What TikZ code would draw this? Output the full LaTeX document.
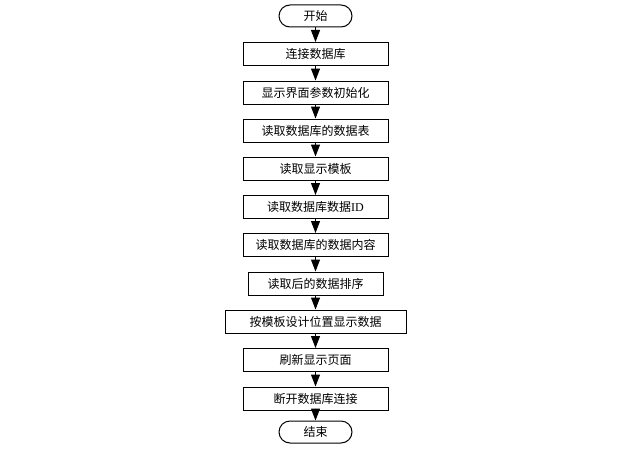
\documentclass[tikz,border=0pt]{standalone}
\usepackage{fontspec}
\setmainfont{Liberation Serif}
\newfontfamily\cjk{Noto Sans CJK SC}
\usetikzlibrary{arrows.meta,shapes.misc}
\begin{document}
\begin{tikzpicture}[x=1pt,y=-1pt,
  box/.style={draw=black,line width=1pt,minimum height=23pt,minimum width=145pt,inner sep=0pt,fill=white,font=\cjk\fontsize{12}{13}\selectfont},
  term/.style={box,rounded rectangle,minimum width=73pt,minimum height=22pt},
  arr/.style={-{Triangle[width=9pt,length=12pt]},line width=1pt}]
\useasboundingbox (0,0) rectangle (628,452);
\node[term] (s) at (315.5,16) {开始};
\node[box] (b1) at (315.5,54) {连接数据库};
\node[box] (b2) at (315.5,92.5) {显示界面参数初始化};
\node[box] (b3) at (315.5,130.5) {读取数据库的数据表};
\node[box] (b4) at (315.5,168.5) {读取显示模板};
\node[box] (b5) at (315.5,207) {读取数据库数据{\rmfamily ID}};
\node[box] (b6) at (315.5,245) {读取数据库的数据内容};
\node[box,minimum width=135pt] (b7) at (315.5,283.5) {读取后的数据排序};
\node[box,minimum width=181pt] (b8) at (315.5,321.5) {按模板设计位置显示数据};
\node[box] (b9) at (315.5,360) {刷新显示页面};
\node[box] (b10) at (315.5,398.5) {断开数据库连接};
\node[term] (e) at (315.5,432) {结束};
\foreach \a/\b in {s/b1,b1/b2,b2/b3,b3/b4,b4/b5,b5/b6,b6/b7,b7/b8,b8/b9,b9/b10,b10/e}
  \draw[arr] (\a) -- (\b);
\end{tikzpicture}
\end{document}
